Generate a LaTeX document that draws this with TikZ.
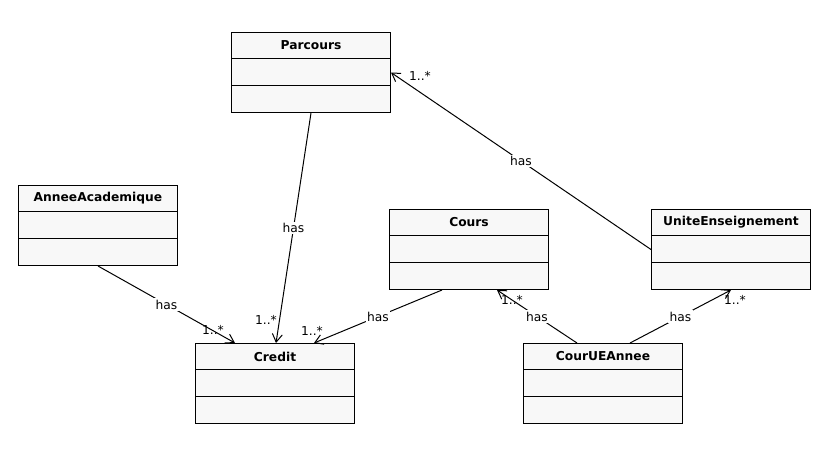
\documentclass[tikz,border=0pt]{standalone}
\usepackage{fontspec}
\setmainfont{DejaVu Sans}
\usetikzlibrary{arrows.meta,calc}
\definecolor{boxfill}{HTML}{F8F8F8}
\tikzset{
  classbox/.style={draw=black, fill=boxfill, line width=0.75pt, minimum width=119.25pt, minimum height=60pt, inner sep=0pt, anchor=north west, rectangle},
  classname/.style={font=\fontsize{9.2}{11}\selectfont\bfseries, inner sep=0pt},
  assoc/.style={draw=black, line width=0.75pt, -{Straight Barb[length=6pt,width=7.5pt]}},
  haslabel/.style={font=\fontsize{9.2}{11}\selectfont, fill=white, inner sep=1pt},
  mult/.style={font=\fontsize{9.2}{11}\selectfont, inner sep=0pt},
  divider/.style={draw=black, line width=0.75pt},
}
\newcommand{\umlclass}[4]{%
  \node[classbox] (#1) at (#2,#3) {};
  \draw[divider] ($(#1.north west)+(0,26.67)$) -- ($(#1.north east)+(0,26.67)$);
  \draw[divider] ($(#1.north west)+(0,53.33)$) -- ($(#1.north east)+(0,53.33)$);
  \node[classname] (#1-name) at ($(#1.north)+(0,13.5)$) {#4};
}
\begin{document}
\begin{tikzpicture}[x=0.75pt,y=-0.75pt]
\useasboundingbox (0,0) rectangle (813,455);
\umlclass{parcours}{231}{32}{Parcours}
\umlclass{annee}{18}{185}{AnneeAcademique}
\umlclass{cours}{389}{209}{Cours}
\umlclass{ue}{651}{209}{UniteEnseignement}
\umlclass{credit}{195}{343}{Credit}
\umlclass{cuea}{523}{343}{CourUEAnnee}

\draw[assoc] (parcours.south) -- node[haslabel,pos=0.5] (l1) {has} ($(credit.north west)+(81,0)$);
\draw[assoc] (annee.south) -- node[haslabel,pos=0.5] (l2) {has} ($(credit.north west)+(40,0)$);
\draw[assoc] ($(cours.south west)+(53,0)$) -- node[haslabel,pos=0.5] (l3) {has} ($(credit.north west)+(119,0)$);
\draw[assoc] (ue.west) -- node[haslabel,pos=0.5] (l4) {has} (parcours.east);
\draw[assoc] ($(cuea.north west)+(54,0)$) -- node[haslabel,pos=0.5] (l5) {has} ($(cours.south west)+(108,0)$);
\draw[assoc] ($(cuea.north west)+(107,0)$) -- node[haslabel,pos=0.5] (l6) {has} (ue.south);

\node[mult] (m1) at (266,320) {1..*};
\node[mult] (m2) at (213,330) {1..*};
\node[mult] (m3) at (312,331) {1..*};
\node[mult] (m4) at (420,76) {1..*};
\node[mult] (m5) at (512,300) {1..*};
\node[mult] (m6) at (735,300) {1..*};
\end{tikzpicture}
\end{document}
